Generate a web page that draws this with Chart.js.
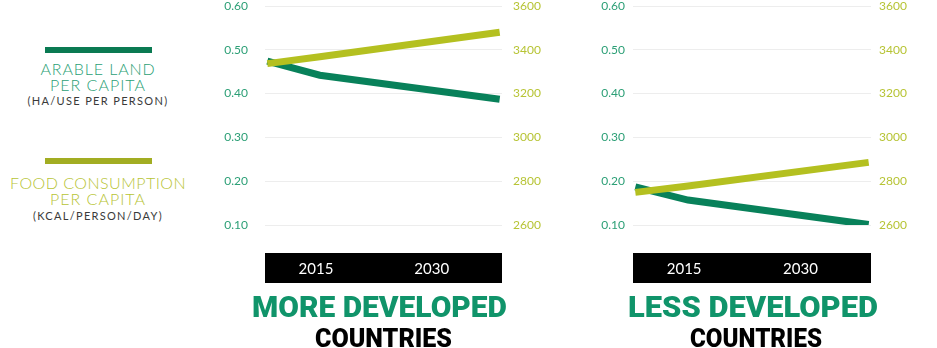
<!DOCTYPE html>
<html>
<head>
<meta charset="utf-8">
<script src="https://cdn.jsdelivr.net/npm/chart.js"></script>
<style>
    body {
        margin: 0;
        width: 937px;
        height: 348px;
        background: #fff;
        position: relative;
        overflow: hidden;
        font-family: "Lato", "Open Sans", sans-serif;
    }
    canvas { position: absolute; top: 0; }
    .key-bar { position: absolute; left: 45px; width: 107px; height: 6px; }
    .txt { position: absolute; white-space: nowrap; line-height: 1; }
    .key { font-size: 16px; font-weight: 300; }
    .key-sub { font-size: 11px; font-weight: 400; color: #3a3a3a; }
    .title { font-family: "Roboto", "Inter", sans-serif; font-weight: 900; transform-origin: 0 0; }
</style>
</head>
<body>

<div class="key-bar" id="landBar" style="top:47px"></div>
<span class="txt key land-text" data-cx="98" data-base="75" data-w="115" data-mode="space">ARABLE LAND</span>
<span class="txt key land-text" data-cx="98" data-base="90.7" data-w="96" data-mode="space">PER CAPITA</span>
<span class="txt key-sub" data-cx="98" data-base="105" data-w="141" data-mode="space">(HA/USE PER PERSON)</span>

<div class="key-bar" id="foodBar" style="top:158px"></div>
<span class="txt key food-text" data-cx="98" data-base="189.3" data-w="176" data-mode="space">FOOD CONSUMPTION</span>
<span class="txt key food-text" data-cx="98" data-base="205" data-w="96" data-mode="space">PER CAPITA</span>
<span class="txt key-sub" data-cx="98" data-base="219.5" data-w="130" data-mode="space">(KCAL/PERSON/DAY)</span>

<canvas id="chartMore" width="360" height="290" style="left:200px"></canvas>
<canvas id="chartLess" width="360" height="290" style="left:570px"></canvas>

<span class="txt title" style="font-size:30px;color:#10946a" data-cx="379.5" data-base="316.7" data-w="255" data-mode="scale">MORE DEVELOPED</span>
<span class="txt title" style="font-size:26px;color:#000" data-cx="383.5" data-base="346.7" data-w="137" data-mode="scale">COUNTRIES</span>
<span class="txt title" style="font-size:30px;color:#10946a" data-cx="753" data-base="316.7" data-w="250" data-mode="scale">LESS DEVELOPED</span>
<span class="txt title" style="font-size:26px;color:#000" data-cx="756" data-base="346.7" data-w="132" data-mode="scale">COUNTRIES</span>

<script>
// x positions of the points and the years written in the black band
const years = [2008.7, 2015.5, 2038.8];
const yearTicks = [2015, 2030];
const yearMin = 2008.4;
const yearMax = 2039.1;

// hectares per person
const moreLand = [0.474, 0.442, 0.387];
const lessLand = [0.187, 0.157, 0.101];

// kcal per person per day
const moreFood = [3337, 3368, 3480];
const lessFood = [2749, 2778, 2886];

const landMin = 0.1, landMax = 0.6, landStep = 0.1;
const foodMin = 2600, foodMax = 3600, foodStep = 200;

const LAND_COLOR = '#08815a';
const LAND_KEY = '#0a7a52';
const LAND_LABEL = '#2c9f76';
const FOOD_COLOR = '#b4c020';
const FOOD_KEY = '#a2ad22';
const FOOD_LABEL = '#b7c435';

document.getElementById('landBar').style.background = LAND_KEY;
document.getElementById('foodBar').style.background = FOOD_KEY;
document.querySelectorAll('.land-text').forEach(el => el.style.color = LAND_LABEL);
document.querySelectorAll('.food-text').forEach(el => el.style.color = FOOD_LABEL);

// black strip under the plot that holds the year labels
const yearBand = {
    id: 'yearBand',
    beforeDraw(chart) {
        const { ctx, chartArea } = chart;
        ctx.save();
        ctx.fillStyle = '#000';
        ctx.fillRect(chartArea.left, chartArea.bottom + 28, chartArea.right - chartArea.left, 30);
        ctx.restore();
    }
};

function points(values) {
    return years.map((x, i) => ({ x: x, y: values[i] }));
}

// fixed axis width; the tick padding should not push the plot down
function fixWidth(width) {
    return scale => {
        scale.width = width;
        scale.paddingTop = 6;
        scale.paddingBottom = 0;
    };
}

function makeChart(id, land, food, sides) {
    return new Chart(document.getElementById(id), {
        type: 'line',
        data: {
            datasets: [
                {
                    label: 'Food consumption per capita',
                    data: points(food),
                    yAxisID: 'food',
                    borderColor: FOOD_COLOR,
                    borderWidth: 7,
                    pointRadius: 0,
                    tension: 0
                },
                {
                    label: 'Arable land per capita',
                    data: points(land),
                    yAxisID: 'land',
                    borderColor: LAND_COLOR,
                    borderWidth: 7,
                    pointRadius: 0,
                    tension: 0
                }
            ]
        },
        options: {
            responsive: false,
            animation: false,
            layout: { padding: 0 },
            plugins: {
                legend: { display: false },
                tooltip: { enabled: false }
            },
            scales: {
                x: {
                    type: 'linear',
                    min: yearMin,
                    max: yearMax,
                    afterBuildTicks: scale => {
                        scale.ticks = yearTicks.map(v => ({ value: v }));
                    },
                    afterFit: scale => { scale.height = 65; },
                    grid: { display: false },
                    border: { display: false },
                    ticks: {
                        color: '#fff',
                        padding: 27,
                        font: { family: 'Lato', size: 15 },
                        callback: v => String(v)
                    }
                },
                land: {
                    position: 'left',
                    min: landMin,
                    max: landMax,
                    afterFit: fixWidth(sides.left),
                    grid: { color: '#ededed', drawTicks: false },
                    border: { display: false },
                    ticks: {
                        stepSize: landStep,
                        padding: sides.leftPad,
                        color: LAND_LABEL,
                        font: { family: 'Lato', size: 12 },
                        callback: v => v.toFixed(2)
                    }
                },
                food: {
                    position: 'right',
                    min: foodMin,
                    max: foodMax,
                    afterFit: fixWidth(sides.right),
                    grid: { display: false, drawTicks: false },
                    border: { display: false },
                    ticks: {
                        stepSize: foodStep,
                        padding: sides.rightPad,
                        color: FOOD_LABEL,
                        font: { family: 'Lato', size: 12 },
                        callback: v => String(v)
                    }
                }
            }
        },
        plugins: [yearBand]
    });
}

makeChart('chartMore', moreLand, moreFood, { left: 65, leftPad: 17, right: 58, rightPad: 11 });
makeChart('chartLess', lessLand, lessFood, { left: 63, leftPad: 8, right: 59, rightPad: 8 });

// place the html text by baseline and stretch / squeeze it to its width
function placeText(el) {
    const cx = parseFloat(el.dataset.cx);
    const base = parseFloat(el.dataset.base);
    const target = parseFloat(el.dataset.w);

    const marker = document.createElement('span');
    marker.style.cssText = 'display:inline-block;width:0;height:0;vertical-align:baseline';
    el.appendChild(marker);
    const baseOffset = marker.offsetTop;
    el.removeChild(marker);

    const natural = el.getBoundingClientRect().width;
    if (el.dataset.mode === 'scale') {
        const s = target / natural;
        el.style.transform = `scaleX(${s})`;
        el.style.left = (cx - target / 2) + 'px';
    } else {
        const spacing = (target - natural) / el.textContent.length;
        el.style.letterSpacing = spacing + 'px';
        el.style.left = (cx - target / 2) + 'px';
    }
    el.style.top = (base - baseOffset) + 'px';
}

document.fonts.ready.then(() => {
    document.querySelectorAll('.txt').forEach(placeText);
});
</script>
</body>
</html>
